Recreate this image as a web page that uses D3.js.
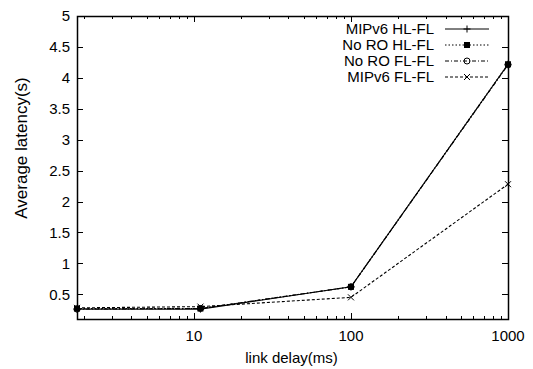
<!DOCTYPE html>
<html>
<head>
<meta charset="utf-8">
<script src="https://cdn.jsdelivr.net/npm/d3@7"></script>
<style>
  body { margin: 0; background: #fff; }
  text { font-family: "Liberation Sans", Arial, sans-serif; font-size: 15px; fill: #000; }
</style>
</head>
<body>
<div class="chart"></div>
<script>
// link delay (ms) on the x axis
const delays = [1.8, 11, 100, 1000]

const seriesNames = ['MIPv6 HL-FL', 'No RO HL-FL', 'No RO FL-FL', 'MIPv6 FL-FL']
const mipv6HLFL = [0.26, 0.26, 0.62, 4.22]
const noroHLFL = [0.27, 0.27, 0.62, 4.22]
const noroFLFL = [0.26, 0.27, 0.62, 4.21]
const mipv6FLFL = [0.28, 0.30, 0.45, 2.28]

const yTicks = [0.5, 1, 1.5, 2, 2.5, 3, 3.5, 4, 4.5, 5]
const xTicks = [10, 100, 1000]

let width = 533, height = 369
let margin = {left: 77, right: 25, top: 16, bottom: 50}

let svg = d3.select('div.chart').append('svg')
  .attr('width', width)
  .attr('height', height)

let x = d3.scaleLog().domain([1.8, 1000]).range([margin.left, width - margin.right])
let y = d3.scaleLinear().domain([0.1, 5]).range([height - margin.bottom, margin.top])

let x0 = margin.left, x1 = width - margin.right
let y0 = height - margin.bottom, y1 = margin.top

// ticks, drawn inward on all four sides (gnuplot style)
let g = svg.append('g').attr('stroke', '#000').attr('stroke-width', 1)
yTicks.forEach(v => {
  let yy = Math.round(y(v)) + 0.5
  g.append('line').attr('x1', x0).attr('x2', x0 + 6).attr('y1', yy).attr('y2', yy)
  g.append('line').attr('x1', x1).attr('x2', x1 - 6).attr('y1', yy).attr('y2', yy)
})
// minor + major log ticks
let minor = []
for (let d = 1; d <= 100; d *= 10) {
  for (let m = 2; m <= 9; m++) if (d * m >= 1.8) minor.push(d * m)
}
minor.forEach(v => {
  let xx = Math.round(x(v)) + 0.5
  g.append('line').attr('x1', xx).attr('x2', xx).attr('y1', y0).attr('y2', y0 - 3)
  g.append('line').attr('x1', xx).attr('x2', xx).attr('y1', y1).attr('y2', y1 + 3)
})
xTicks.forEach(v => {
  let xx = Math.round(x(v)) + 0.5
  g.append('line').attr('x1', xx).attr('x2', xx).attr('y1', y0).attr('y2', y0 - 6)
  g.append('line').attr('x1', xx).attr('x2', xx).attr('y1', y1).attr('y2', y1 + 6)
})

// tick labels
svg.selectAll('text.ytick').data(yTicks).enter().append('text')
  .attr('class', 'ytick')
  .attr('x', x0 - 7)
  .attr('y', d => y(d))
  .attr('dy', '0.35em')
  .attr('text-anchor', 'end')
  .text(d => d)

svg.selectAll('text.xtick').data(xTicks).enter().append('text')
  .attr('class', 'xtick')
  .attr('x', d => x(d))
  .attr('y', y0 + 17)
  .attr('dy', '0.35em')
  .attr('text-anchor', 'middle')
  .text(d => d)

// axis titles
svg.append('text')
  .attr('x', (x0 + x1) / 2 - 1)
  .attr('y', 358)
  .attr('dy', '0.35em')
  .attr('text-anchor', 'middle')
  .text('link delay(ms)')

svg.append('text')
  .attr('transform', 'translate(21,148) rotate(-90)')
  .attr('dy', '0.35em')
  .attr('text-anchor', 'middle')
  .style('font-size', '17px')
  .text('Average latency(s)')

// series
const series = [
  {name: seriesNames[0], values: mipv6HLFL, dash: null, marker: 'plus'},
  {name: seriesNames[1], values: noroHLFL, dash: '1.5,2', marker: 'square'},
  {name: seriesNames[2], values: noroFLFL, dash: '4,2,1,2', marker: 'circle'},
  {name: seriesNames[3], values: mipv6FLFL, dash: '3,2', marker: 'cross'}
]

const drawMarker = (sel, type, cx, cy) => {
  if (type == 'plus') {
    sel.append('path').attr('d', `M${cx-3.5},${cy}H${cx+3.5}M${cx},${cy-3.5}V${cy+3.5}`)
      .attr('stroke', '#000').attr('fill', 'none')
  } else if (type == 'square') {
    sel.append('rect').attr('x', cx - 3).attr('y', cy - 3).attr('width', 6).attr('height', 6)
      .attr('fill', '#000')
  } else if (type == 'circle') {
    sel.append('circle').attr('cx', cx).attr('cy', cy).attr('r', 3)
      .attr('fill', 'none').attr('stroke', '#000')
  } else {
    sel.append('path').attr('d', `M${cx-3},${cy-3}L${cx+3},${cy+3}M${cx-3},${cy+3}L${cx+3},${cy-3}`)
      .attr('stroke', '#000').attr('fill', 'none')
  }
}

let line = d3.line().x(d => x(d[0])).y(d => y(d[1]))

series.slice().reverse().forEach(s => {
  let pts = delays.map((d, i) => [d, s.values[i]])
  svg.append('path')
    .datum(pts)
    .attr('d', line)
    .attr('fill', 'none')
    .attr('stroke', '#000')
    .attr('stroke-width', 1.1)
    .attr('stroke-dasharray', s.dash)
  pts.forEach(p => drawMarker(svg, s.marker, x(p[0]), y(p[1])))
})

// legend
series.forEach((s, i) => {
  let ly = 29 + i * 16
  svg.append('text')
    .attr('x', 434)
    .attr('y', ly)
    .attr('dy', '0.35em')
    .attr('text-anchor', 'end')
    .text(s.name)
  svg.append('line')
    .attr('x1', 445).attr('x2', 489)
    .attr('y1', ly).attr('y2', ly)
    .attr('stroke', '#000')
    .attr('stroke-dasharray', s.dash)
  drawMarker(svg, s.marker, 467, ly)
})

// frame
svg.append('rect')
  .attr('x', x0 + 0.5).attr('y', y1 + 0.5)
  .attr('width', x1 - x0).attr('height', y0 - y1)
  .attr('fill', 'none')
  .attr('stroke', '#000')
  .attr('stroke-width', 1.5)
</script>
</body>
</html>
